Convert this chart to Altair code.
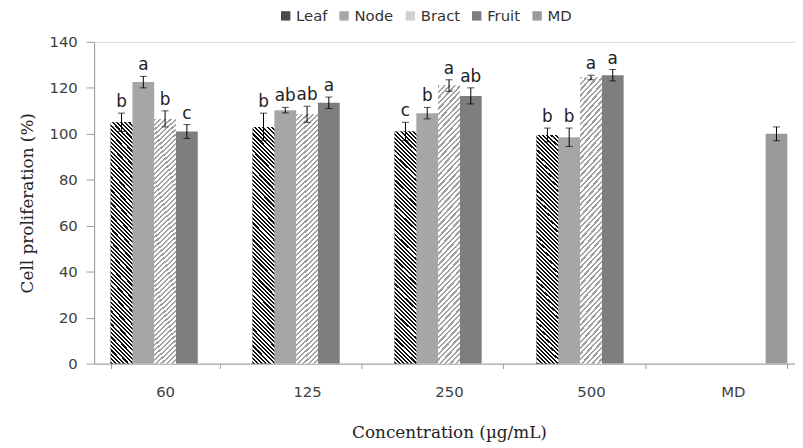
import math
import altair as alt
import pandas as pd

# ---------------- data ----------------
categories = ["60", "125", "250", "500", "MD"]
series = ["Leaf", "Node", "Bract", "Fruit", "MD"]

leaf = [105, 103, 101, 99.5]
leaf_err = [4, 6, 4, 3]
leaf_sig = ["b", "b", "c", "b"]

node = [122.5, 110.3, 109, 98.5]
node_err = [2.5, 1.2, 2.5, 4]
node_sig = ["a", "ab", "b", "b"]

bract = [106.5, 108.5, 121, 124.5]
bract_err = [3.5, 3.5, 2.5, 1]
bract_sig = ["b", "ab", "a", "a"]

fruit = [101, 113.5, 116.5, 125.5]
fruit_err = [3, 2.5, 3.5, 2.5]
fruit_sig = ["c", "a", "ab", "a"]

md = [100]
md_err = [3]
md_sig = [""]

rows = []
for name, vals, errs, sigs, cats in [
    ("Leaf", leaf, leaf_err, leaf_sig, categories[:4]),
    ("Node", node, node_err, node_sig, categories[:4]),
    ("Bract", bract, bract_err, bract_sig, categories[:4]),
    ("Fruit", fruit, fruit_err, fruit_sig, categories[:4]),
    ("MD", md, md_err, md_sig, categories[4:]),
]:
    for c, v, e, s in zip(cats, vals, errs, sigs):
        rows.append({"cat": c, "series": name, "value": v, "err": e,
                     "lo": v - e, "hi": v + e, "sig": s})
df = pd.DataFrame(rows)

# ---------------- layout ----------------
W, H = 717, 325
PAD_IN, PAD_OUT = 0.233, 0.1165
YMAX = 140
step = W / (len(categories) - PAD_IN + 2 * PAD_OUT)
bar_w = step * (1 - PAD_IN) / len(series)
px_per_unit = H / YMAX


def stripes(direction, w, h, period, c_line, c_bg, duty):
    """Linear gradient (bounding-box units) that looks like 45deg hatching."""
    r = w / h
    s = (r + 1) / (r * r + 1)
    if direction == "back":      # "\" lines
        x1, y1, x2, y2 = 0, 1, s * r, 1 - s
    else:                        # "/" lines
        x1, y1, x2, y2 = 0, 0, s * r, s
    n = max(1, int(round((w + h) / math.sqrt(2) / period)))
    stops = []
    for i in range(n):
        a = i / n
        b = (i + duty) / n
        c = (i + 1) / n
        stops += [{"offset": a, "color": c_line}, {"offset": b, "color": c_line},
                  {"offset": b, "color": c_bg}, {"offset": c, "color": c_bg}]
    return {"gradient": "linear", "x1": x1, "y1": y1, "x2": x2, "y2": y2,
            "stops": stops}


leaf_fill = stripes("back", bar_w, sum(leaf) / len(leaf) * px_per_unit,
                    3.0, "#111111", "#ffffff", 0.5)
bract_fill = stripes("fwd", bar_w, sum(bract) / len(bract) * px_per_unit,
                     3.8, "#a0a0a0", "#ffffff", 0.42)

legend_colors = ["#4a4a4a", "#a6a6a6", "#d2d2d2", "#7e7e7e", "#9a9a9a"]

SANS = "DejaVu Sans"
SERIF = "DejaVu Serif"

x = alt.X("cat:N", sort=categories,
          scale=alt.Scale(domain=categories, paddingInner=PAD_IN, paddingOuter=PAD_OUT),
          axis=alt.Axis(title="Concentration (µg/mL)", labelAngle=0, tickBand="extent",
                        tickSize=5, labelPadding=16, titlePadding=26,
                        domainColor="#9a9a9a", tickColor="#9a9a9a",
                        labelFont=SANS, labelFontSize=15, labelColor="#404040",
                        titleFont=SERIF, titleFontSize=17, titleFontWeight="normal",
                        titleColor="#222222"))
xo = alt.XOffset("series:N", sort=series,
                 scale=alt.Scale(domain=series, paddingInner=0, paddingOuter=0))
y = alt.Y("value:Q", scale=alt.Scale(domain=[0, YMAX], nice=False),
          axis=alt.Axis(title="Cell proliferation (%)", values=list(range(0, 141, 20)),
                        grid=False, tickSize=8, labelPadding=9, titlePadding=13,
                        domainColor="#9a9a9a", tickColor="#9a9a9a",
                        labelFont=SANS, labelFontSize=15, labelColor="#404040",
                        titleFont=SERIF, titleFontSize=17, titleFontWeight="normal",
                        titleColor="#222222"))

base = alt.Chart(df)

bars = base.mark_bar(strokeWidth=0).encode(
    x=x, xOffset=xo, y=y,
    fill=alt.Fill("series:N", sort=series,
                  scale=alt.Scale(domain=series, range=legend_colors),
                  legend=alt.Legend(title=None, orient="none", direction="horizontal",
                                    legendX=186, legendY=-34, symbolType="square",
                                    symbolSize=90, symbolStrokeWidth=0,
                                    labelFont=SANS, labelFontSize=15,
                                    labelColor="#333333", columnPadding=9,
                                    labelOffset=3)),
)

leaf_bars = base.transform_filter(alt.datum.series == "Leaf").mark_bar(
    fill=leaf_fill, strokeWidth=0).encode(x=x, xOffset=xo, y=y)
bract_bars = base.transform_filter(alt.datum.series == "Bract").mark_bar(
    fill=bract_fill, strokeWidth=0).encode(x=x, xOffset=xo, y=y)

err_rule = base.mark_rule(color="#000000", strokeWidth=1).encode(
    x=x, xOffset=xo, y="lo:Q", y2="hi:Q")
cap_hi = base.mark_tick(color="#000000", thickness=1, size=7).encode(
    x=x, xOffset=xo, y="hi:Q")
cap_lo = base.mark_tick(color="#000000", thickness=1, size=7).encode(
    x=x, xOffset=xo, y="lo:Q")
letters = base.mark_text(baseline="bottom", dy=-2, font=SANS, fontSize=17,
                         color="#222222").encode(
    x=x, xOffset=xo, y="hi:Q", text="sig:N")

chart = alt.layer(bars, leaf_bars, bract_bars, err_rule, cap_hi, cap_lo, letters).properties(
    width=W, height=H,
    autosize=alt.AutoSizeParams(type="none"),
    padding={"left": 87, "top": 32, "right": -9, "bottom": 83},
).configure_view(stroke=None).configure(background="#ffffff")

chart.save("out.html", embed_options={"renderer": "svg", "actions": False})
